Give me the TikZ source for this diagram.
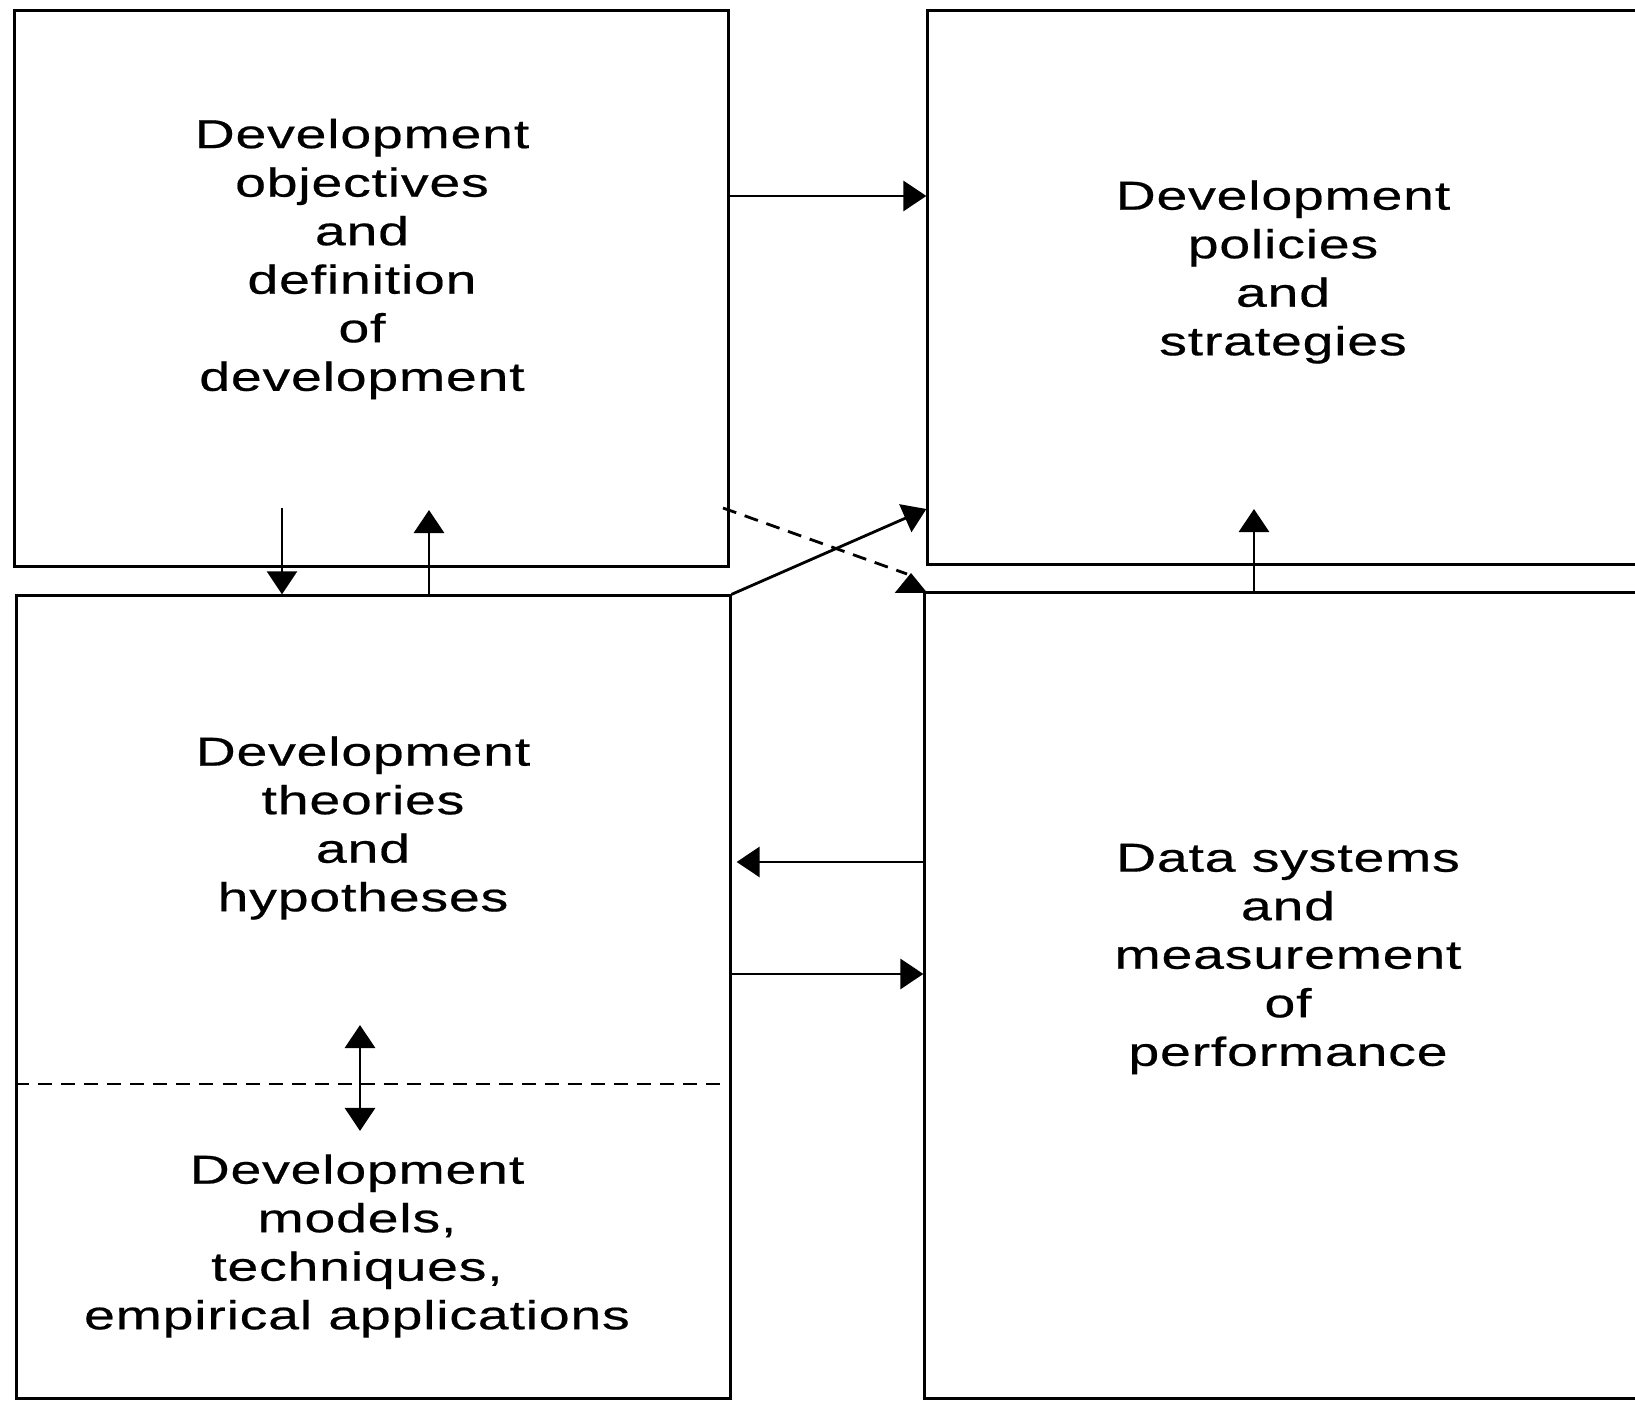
\documentclass[tikz,border=0pt]{standalone}
\usepackage{fontspec}
\setmainfont[FakeStretch=1.37,LetterSpace=2,FakeBold=0.5]{Liberation Sans}
\usetikzlibrary{arrows.meta}

\tikzset{
  box/.style 2 args={draw,line width=0.8pt,inner sep=0pt,minimum width=#1,minimum height=#2},
  label text/.style={align=center,font=\fontsize{11.5}{13.8}\selectfont},
  arr/.style={line width=0.8pt,-{Triangle[width=0.3cm,length=0.23cm]}},
  dblarr/.style={line width=0.8pt,{Triangle[width=0.3cm,length=0.23cm]}-{Triangle[width=0.3cm,length=0.23cm]}},
  dash line/.style={line width=0.8pt,dash pattern=on 0.14cm off 0.09cm}
}

\begin{document}
\begin{tikzpicture}[x=0.01cm,y=-0.01cm]
\useasboundingbox (0,0) rectangle (1635,1401);

% boxes
\node[box={7.13cm}{5.55cm}] (objbox) at (371.5,288.5) {};
\node[box={7.22cm}{5.53cm}] (polbox) at (1289,287.5) {};
\node[box={7.13cm}{8.02cm}] (thbox) at (373.5,997) {};
\node[box={7.25cm}{8.05cm}] (databox) at (1287.5,995.5) {};

% texts
\node[label text] (objtext) at (362,259) {Development\\objectives\\and\\definition\\of\\development};
\node[label text] (poltext) at (1283,272) {Development\\policies\\and\\strategies};
\node[label text] (thtext) at (363,828) {Development\\theories\\and\\hypotheses};
\node[label text] (modtext) at (357,1246) {Development\\models,\\techniques,\\empirical applications};
\node[label text] (datatext) at (1288,959) {Data systems\\and\\measurement\\of\\performance};

\coordinate (dn) at (282,508);
\coordinate (up) at (429,510);
\coordinate (dsA) at (723,508);
\coordinate (dsB) at (911,573);
\coordinate (ru) at (1254,509);
\coordinate (dblt) at (360,1025);
\coordinate (dblb) at (360,1131);

\draw[arr] (objbox.east |- 0,196) -- (polbox.west |- 0,196);
\draw[arr] (dn) -- (dn |- thbox.north);
\draw[arr] (up |- thbox.north) -- (up);
\draw[arr] (thbox.north east) -- (polbox.west |- 0,509);
\draw[dash line] (dsA) -- ([xshift=-0.04cm,yshift=-0.01cm]dsB);
\draw[line width=0.8pt,-{Triangle[width=0.32cm,length=0.2cm]}] (dsB |- databox.north) -- (dsB);
\draw[arr] (ru |- databox.north) -- (ru);
\draw[arr,shorten >=0.05cm] (databox.west |- 0,862) -- (thbox.east |- 0,862);
\draw[arr] (thbox.east |- 0,974) -- (databox.west |- 0,974);
\draw[dash line] (thbox.west |- 0,1084) -- (thbox.east |- 0,1084);
\draw[dblarr] (dblt) -- (dblb);
\end{tikzpicture}
\end{document}
